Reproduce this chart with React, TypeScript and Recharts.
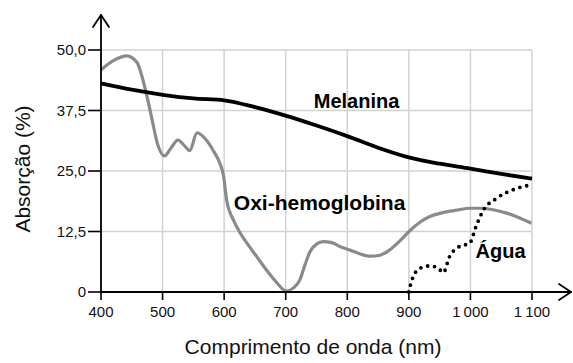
import React from 'react';
import { ComposedChart, Line, XAxis, YAxis, CartesianGrid, ReferenceDot } from 'recharts';

const wavelengthTicks = [400, 500, 600, 700, 800, 900, 1000, 1100];
const absorptionTicks = [0, 12.5, 25, 37.5, 50];

const melanina = [
  { x: 400, y: 43.1 }, { x: 450, y: 41.8 }, { x: 503, y: 40.7 }, { x: 550, y: 40.0 },
  { x: 600, y: 39.6 }, { x: 650, y: 38.2 }, { x: 701, y: 36.4 }, { x: 750, y: 34.4 },
  { x: 800, y: 32.2 }, { x: 850, y: 29.8 }, { x: 900, y: 27.8 }, { x: 950, y: 26.5 },
  { x: 1000, y: 25.5 }, { x: 1050, y: 24.4 }, { x: 1100, y: 23.4 },
];

const oxiHemoglobina = [
  { x: 400, y: 45.9 }, { x: 420, y: 47.8 }, { x: 442, y: 48.8 }, { x: 458, y: 47.5 },
  { x: 471, y: 42.4 }, { x: 482, y: 36.2 }, { x: 492, y: 30.5 }, { x: 503, y: 28.1 },
  { x: 514, y: 29.8 }, { x: 525, y: 31.4 }, { x: 535, y: 30.3 }, { x: 544, y: 29.2 },
  { x: 556, y: 32.9 }, { x: 571, y: 31.4 }, { x: 582, y: 29.3 }, { x: 593, y: 26.6 },
  { x: 599, y: 24.0 }, { x: 604, y: 19.0 }, { x: 615, y: 14.9 }, { x: 626, y: 12.2 },
  { x: 637, y: 10.1 }, { x: 653, y: 7.3 }, { x: 669, y: 4.5 }, { x: 685, y: 2.0 },
  { x: 701, y: 0.2 }, { x: 712, y: 0.8 }, { x: 723, y: 2.5 }, { x: 731, y: 5.5 },
  { x: 739, y: 8.2 }, { x: 750, y: 9.9 }, { x: 761, y: 10.4 }, { x: 775, y: 10.2 },
  { x: 790, y: 9.3 }, { x: 804, y: 8.7 }, { x: 820, y: 7.9 }, { x: 837, y: 7.4 },
  { x: 853, y: 7.6 }, { x: 869, y: 8.7 }, { x: 885, y: 10.5 }, { x: 902, y: 12.7 },
  { x: 918, y: 14.4 }, { x: 934, y: 15.6 }, { x: 955, y: 16.4 }, { x: 977, y: 16.9 },
  { x: 1000, y: 17.3 }, { x: 1015, y: 17.3 }, { x: 1037, y: 17.0 }, { x: 1059, y: 16.3 },
  { x: 1080, y: 15.3 }, { x: 1099, y: 14.2 },
];

const agua = [
  { x: 900, y: 0 }, { x: 905, y: 2.5 }, { x: 918, y: 4.9 }, { x: 934, y: 5.4 },
  { x: 947, y: 5.0 }, { x: 956, y: 4.0 }, { x: 966, y: 7.3 }, { x: 977, y: 9.0 },
  { x: 990, y: 9.7 }, { x: 999, y: 10.1 }, { x: 1009, y: 13.5 }, { x: 1021, y: 16.9 },
  { x: 1042, y: 19.3 }, { x: 1075, y: 21.4 }, { x: 1097, y: 22.1 },
];

const seriesLabels = [
  { text: 'Melanina', x: 815, y: 39.4, size: 20 },
  { text: 'Oxi-hemoglobina', x: 755, y: 18.4, size: 21 },
  { text: 'Água', x: 1049, y: 8.5, size: 20 },
];

const FONT = '"Liberation Sans", Arial, sans-serif';

const fmtY = (v: number) => (v === 0 ? '0' : v.toFixed(1).replace('.', ','));
const fmtX = (v: number) => (v >= 1000 ? `${Math.floor(v / 1000)}\u2009${String(v % 1000).padStart(3, '0')}` : String(v));

export default function App() {
  return (
    <div style={{ position: 'absolute', left: 0, top: 0, width: 573, height: 363, background: '#fff', fontFamily: FONT }}>
      <ComposedChart width={573} height={363} margin={{ top: 50, right: 41, left: 41, bottom: 41 }}>
        <CartesianGrid stroke="#d2d2d2" strokeWidth={1.5} />
        <XAxis
          type="number"
          dataKey="x"
          domain={[400, 1100]}
          ticks={wavelengthTicks}
          tickFormatter={fmtX}
          height={30}
          axisLine={false}
          tickSize={8}
          tickMargin={6}
          tickLine={{ stroke: '#000', strokeWidth: 1.6 }}
          tick={{ fill: '#111', fontSize: 15, fontFamily: FONT }}
          allowDuplicatedCategory={false}
        />
        <YAxis
          type="number"
          dataKey="y"
          domain={[0, 50]}
          ticks={absorptionTicks}
          tickFormatter={fmtY}
          width={60}
          axisLine={false}
          tickSize={13}
          tickMargin={2}
          tickLine={{ stroke: '#000', strokeWidth: 1.6 }}
          tick={{ fill: '#111', fontSize: 15, fontFamily: FONT }}
        />
        <Line data={oxiHemoglobina} dataKey="y" type="monotone" stroke="#8a8a8a" strokeWidth={3.2} dot={false} isAnimationActive={false} />
        <Line data={melanina} dataKey="y" type="monotone" stroke="#000" strokeWidth={3.8} dot={false} isAnimationActive={false} />
        <Line
          data={agua}
          dataKey="y"
          type="monotone"
          stroke="#000"
          strokeWidth={3.8}
          strokeDasharray="0 7"
          strokeLinecap="round"
          dot={false}
          isAnimationActive={false}
        />
        {seriesLabels.map((l) => (
          <ReferenceDot
            key={l.text}
            x={l.x}
            y={l.y}
            r={0}
            fill="none"
            stroke="none"
            label={{ value: l.text, position: 'center', fill: '#000', fontSize: l.size, fontWeight: 'bold', fontFamily: FONT }}
          />
        ))}
      </ComposedChart>
      <svg width={573} height={363} style={{ position: 'absolute', left: 0, top: 0, pointerEvents: 'none' }}>
        <g stroke="#000" strokeWidth={1.8} fill="none" strokeLinecap="round" strokeLinejoin="round">
          <line x1={101} y1={292} x2={101} y2={15} />
          <polyline points="93,27 101,15 109,27" />
          <line x1={101} y1={292} x2={571} y2={292} />
          <polyline points="559,284 571,292 559,300" />
        </g>
        <text transform="translate(30 169) rotate(-90)" textAnchor="middle" fontSize={21} fill="#111" fontFamily={FONT}>
          Absorção (%)
        </text>
        <text x={313} y={354} textAnchor="middle" fontSize={21} fill="#111" fontFamily={FONT}>
          Comprimento de onda (nm)
        </text>
      </svg>
    </div>
  );
}
